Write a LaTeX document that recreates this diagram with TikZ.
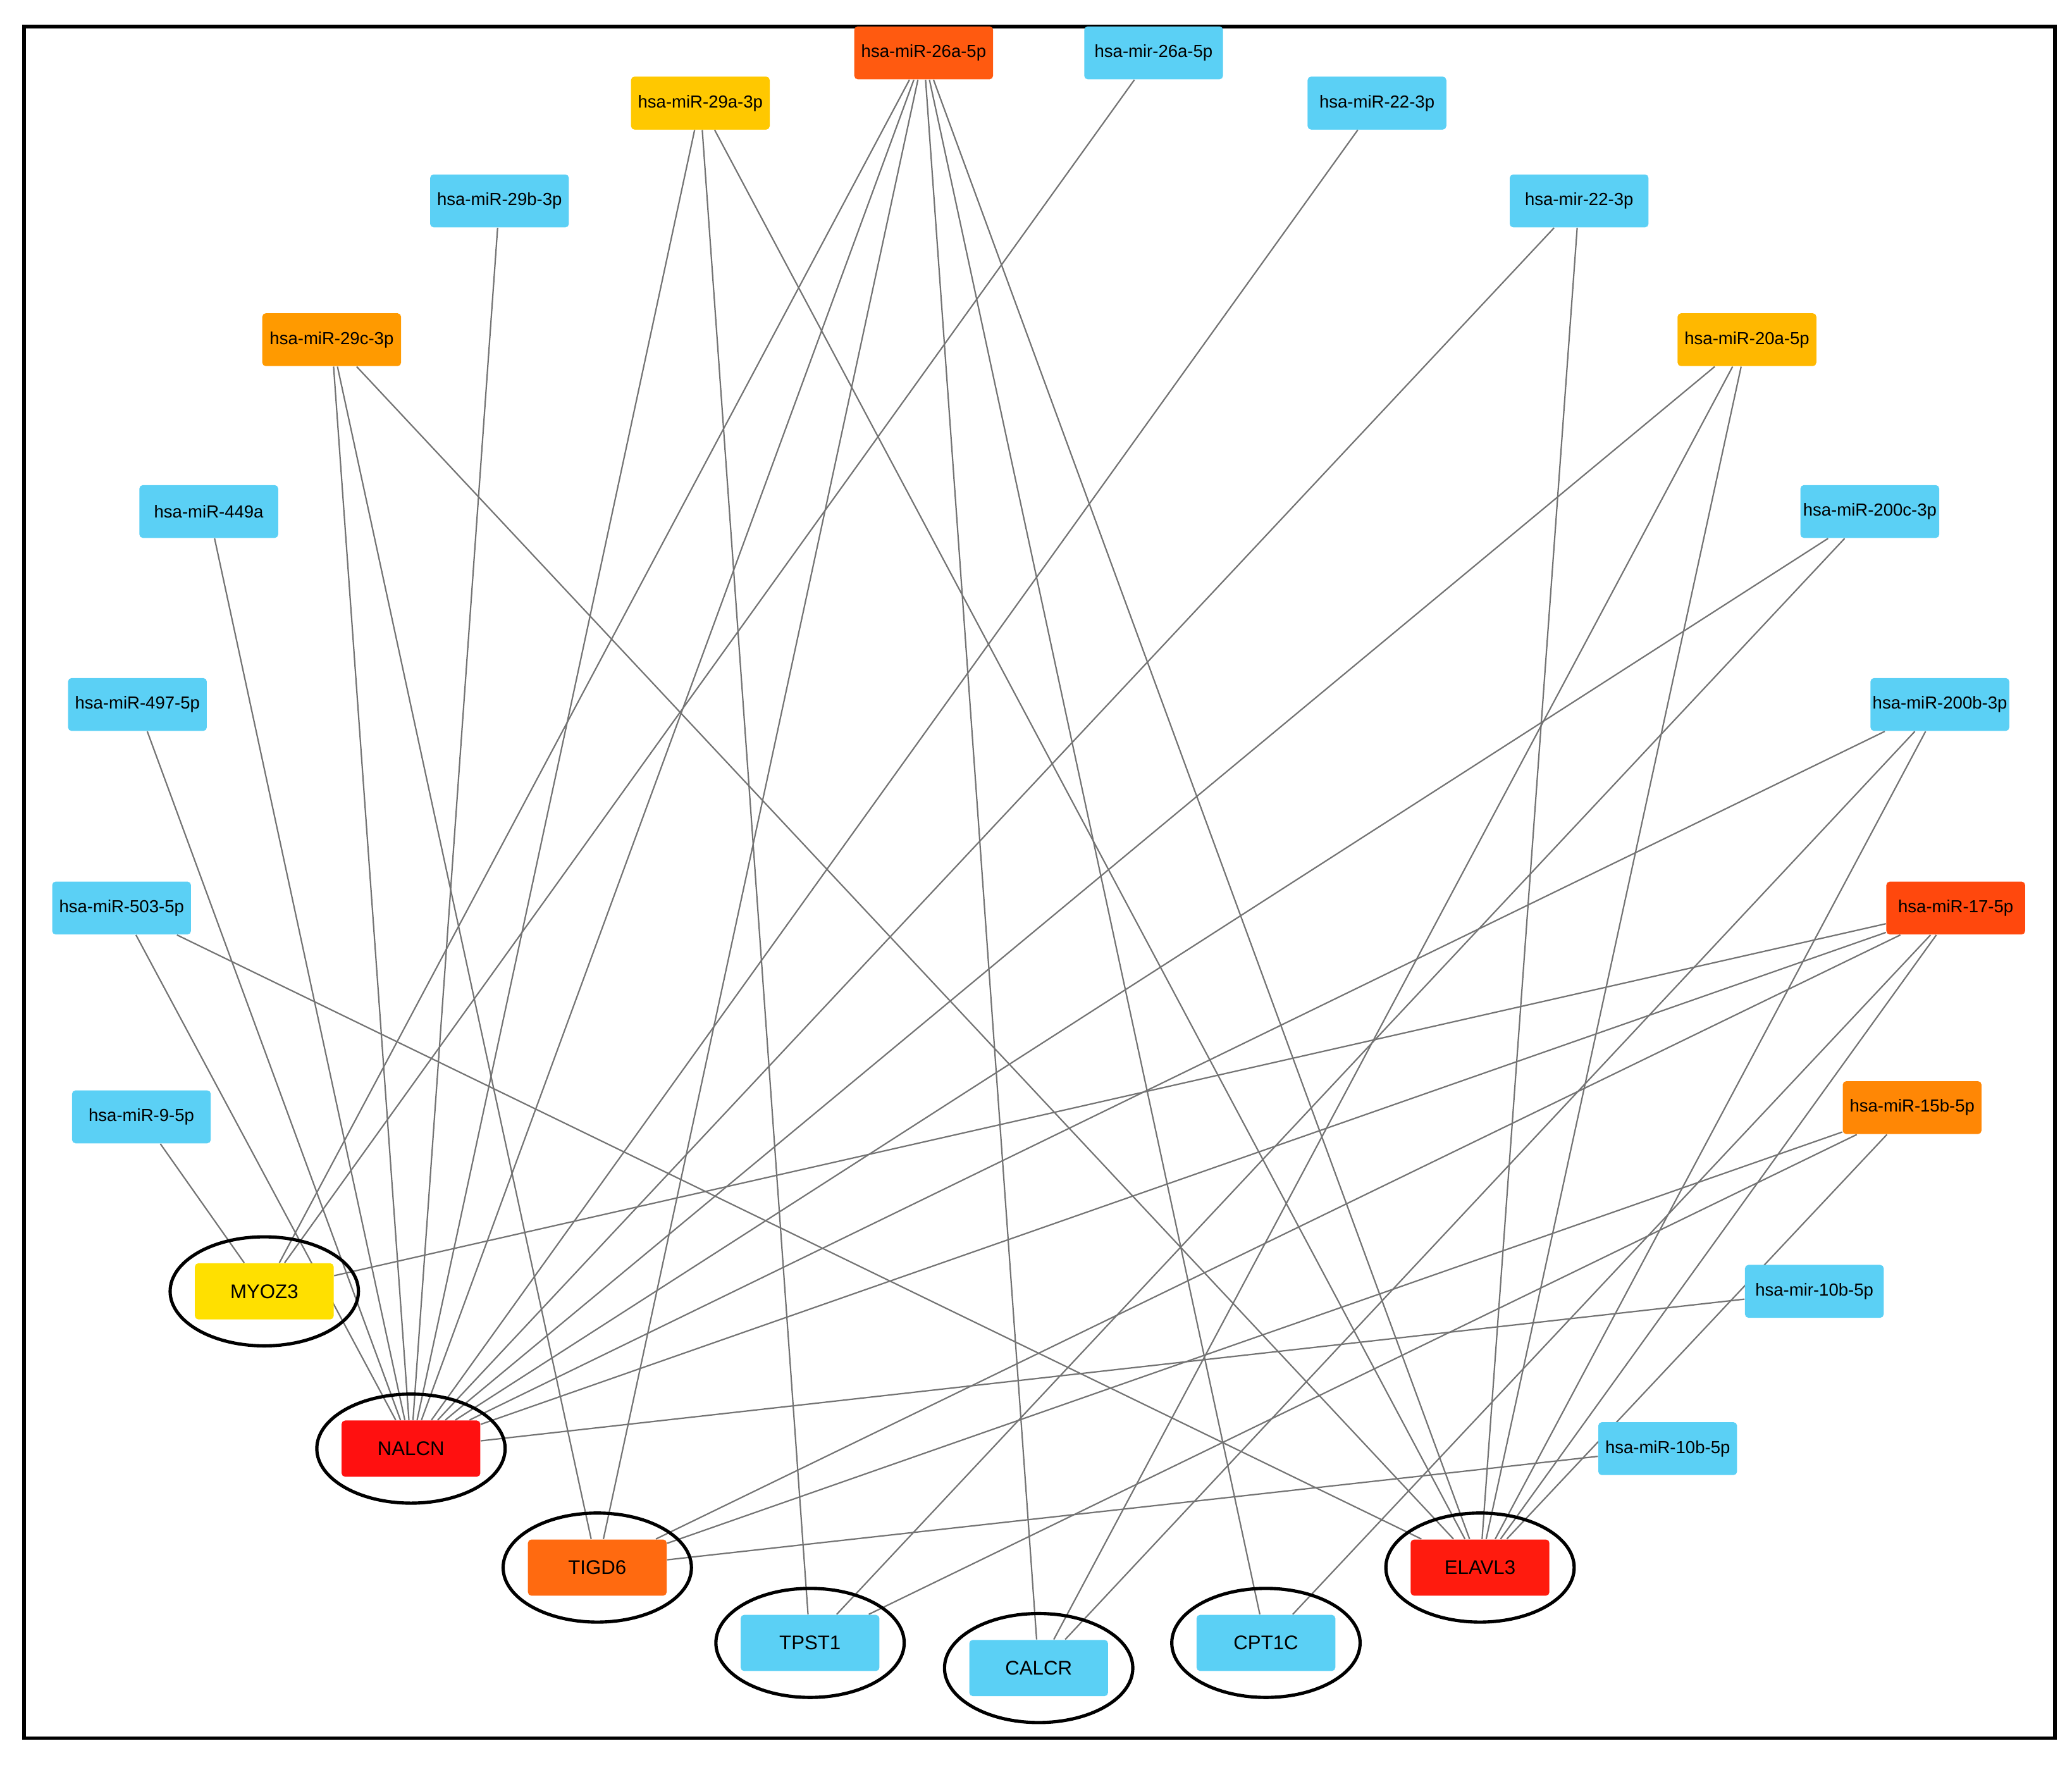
\documentclass[tikz,border=0pt]{standalone}
\usepackage{fontspec}
\setmainfont{Liberation Sans}
\usetikzlibrary{backgrounds,shapes.geometric}
\definecolor{cblue}{HTML}{5BD0F5}
\definecolor{cred}{HTML}{FF1010}
\definecolor{cor}{HTML}{FF5A10}
\definecolor{corg}{HTML}{FF9A00}
\definecolor{cyo}{HTML}{FFB800}
\definecolor{cy}{HTML}{FFC800}
\definecolor{cyy}{HTML}{FFE000}
\definecolor{ctig}{HTML}{FF6A10}
\tikzset{
 mir/.style={draw=none,rounded corners=1.5pt,minimum width=2.1cm,minimum height=0.8cm,font=\fontsize{7.5}{8}\selectfont,inner sep=0pt},
 tgt/.style={draw=none,rounded corners=1.5pt,minimum width=2.1cm,minimum height=0.85cm,font=\fontsize{8.5}{9}\selectfont,inner sep=0pt},
 ring/.style={draw=black,line width=1.4pt,ellipse,minimum width=2.85cm,minimum height=1.65cm},
 edge/.style={draw=black!55,line width=0.6pt}
}
\begin{document}
\begin{tikzpicture}[x=0.2mm,y=-0.2mm]
\useasboundingbox (0,0) rectangle (1568,1335);
\draw[line width=1.6pt] (18,20) rectangle (1555,1315);
\node[mir,fill=cor] (a) at (699,40) {hsa-miR-26a-5p};
\node[mir,fill=cblue] (b) at (873,40) {hsa-mir-26a-5p};
\node[mir,fill=cy] (c) at (530,78) {hsa-miR-29a-3p};
\node[mir,fill=cblue] (d) at (1042,78) {hsa-miR-22-3p};
\node[mir,fill=cblue] (e) at (378,152) {hsa-miR-29b-3p};
\node[mir,fill=cblue] (f) at (1195,152) {hsa-mir-22-3p};
\node[mir,fill=corg] (g) at (251,257) {hsa-miR-29c-3p};
\node[mir,fill=cyo] (h) at (1322,257) {hsa-miR-20a-5p};
\node[mir,fill=cblue] (i) at (158,387) {hsa-miR-449a};
\node[mir,fill=cblue] (j) at (1415,387) {hsa-miR-200c-3p};
\node[mir,fill=cblue] (k) at (104,533) {hsa-miR-497-5p};
\node[mir,fill=cblue] (l) at (1468,533) {hsa-miR-200b-3p};
\node[mir,fill=cblue] (m) at (92,687) {hsa-miR-503-5p};
\node[mir,fill=cor!80!red] (n) at (1480,687) {hsa-miR-17-5p};
\node[mir,fill=cblue] (o) at (107,845) {hsa-miR-9-5p};
\node[mir,fill=corg!70!cor] (p) at (1447,838) {hsa-miR-15b-5p};
\node[mir,fill=cblue] (q) at (1373,977) {hsa-mir-10b-5p};
\node[mir,fill=cblue] (r) at (1262,1096) {hsa-miR-10b-5p};
\node[tgt,fill=cyy] (MY) at (200,977) {MYOZ3};
\node[tgt,fill=cred] (NA) at (311,1096) {NALCN};
\node[tgt,fill=ctig] (TI) at (452,1186) {TIGD6};
\node[tgt,fill=cblue] (TP) at (613,1243) {TPST1};
\node[tgt,fill=cblue] (CA) at (786,1262) {CALCR};
\node[tgt,fill=cblue] (CP) at (958,1243) {CPT1C};
\node[tgt,fill=cred!90!orange] (EL) at (1120,1186) {ELAVL3};
\foreach \t in {MY,NA,TI,TP,CA,CP,EL} \node[ring] (r\t) at (\t) {};
\begin{scope}[on background layer]
\foreach \s/\t in {a/MY,a/NA,a/TI,a/CP,a/EL,a/CA,b/MY,c/NA,c/TP,c/EL,d/NA,e/NA,f/NA,f/EL,g/NA,g/TI,g/EL,h/NA,h/CA,h/EL,i/NA,j/NA,j/TP,l/NA,l/CA,l/EL,n/MY,n/NA,n/TI,n/CP,n/EL,p/TI,p/TP,p/EL,q/NA,r/TI,k/NA,m/NA,m/EL,o/MY}
  \draw[edge] (\s) -- (\t);
\end{scope}
\end{tikzpicture}
\end{document}
